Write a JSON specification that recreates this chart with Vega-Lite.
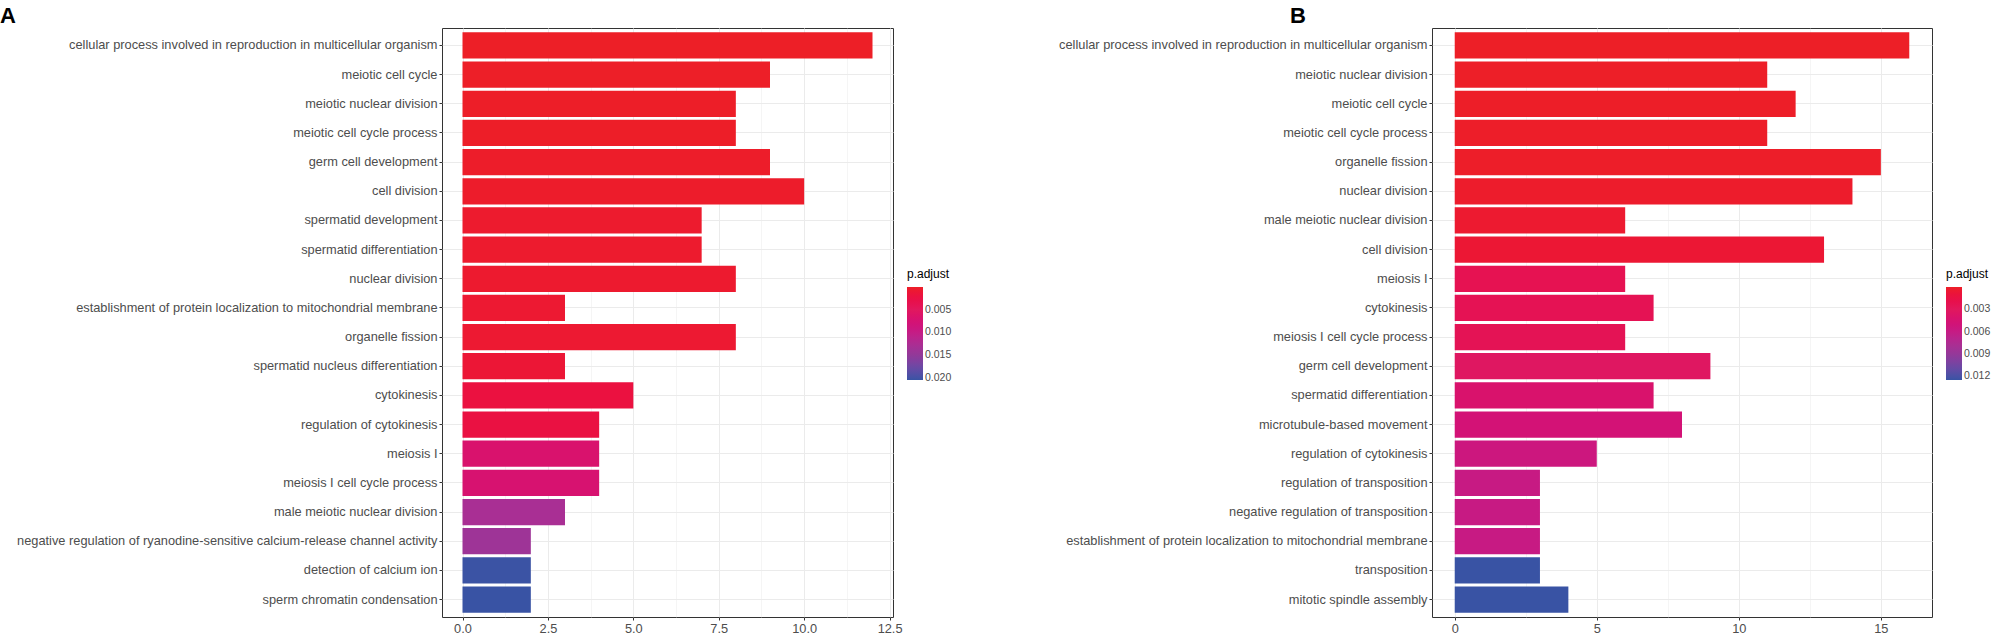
{
  "$schema": "https://vega.github.io/schema/vega-lite/v6.json",
  "autosize": "none",
  "padding": {"left": 442, "top": 28, "right": 1566, "bottom": 611},
  "background": "white",
  "datasets": {
    "A": [
      {"term": "cellular process involved in reproduction in multicellular organism", "count": 12, "p": 0.00002},
      {"term": "meiotic cell cycle", "count": 9, "p": 0.00005},
      {"term": "meiotic nuclear division", "count": 8, "p": 0.0001},
      {"term": "meiotic cell cycle process", "count": 8, "p": 0.0001},
      {"term": "germ cell development", "count": 9, "p": 0.0002},
      {"term": "cell division", "count": 10, "p": 0.0003},
      {"term": "spermatid development", "count": 7, "p": 0.0005},
      {"term": "spermatid differentiation", "count": 7, "p": 0.0005},
      {"term": "nuclear division", "count": 8, "p": 0.0006},
      {"term": "establishment of protein localization to mitochondrial membrane", "count": 3, "p": 0.0008},
      {"term": "organelle fission", "count": 8, "p": 0.0008},
      {"term": "spermatid nucleus differentiation", "count": 3, "p": 0.0012},
      {"term": "cytokinesis", "count": 5, "p": 0.002},
      {"term": "regulation of cytokinesis", "count": 4, "p": 0.0022},
      {"term": "meiosis I", "count": 4, "p": 0.0068},
      {"term": "meiosis I cell cycle process", "count": 4, "p": 0.0072},
      {"term": "male meiotic nuclear division", "count": 3, "p": 0.0129},
      {"term": "negative regulation of ryanodine-sensitive calcium-release channel activity", "count": 2, "p": 0.0139},
      {"term": "detection of calcium ion", "count": 2, "p": 0.0204},
      {"term": "sperm chromatin condensation", "count": 2, "p": 0.0205}
    ],
    "B": [
      {"term": "cellular process involved in reproduction in multicellular organism", "count": 16, "p": 0.00001},
      {"term": "meiotic nuclear division", "count": 11, "p": 0.00003},
      {"term": "meiotic cell cycle", "count": 12, "p": 0.00005},
      {"term": "meiotic cell cycle process", "count": 11, "p": 0.00008},
      {"term": "organelle fission", "count": 15, "p": 0.0001},
      {"term": "nuclear division", "count": 14, "p": 0.0002},
      {"term": "male meiotic nuclear division", "count": 6, "p": 0.0004},
      {"term": "cell division", "count": 13, "p": 0.0006},
      {"term": "meiosis I", "count": 6, "p": 0.0023},
      {"term": "cytokinesis", "count": 7, "p": 0.0024},
      {"term": "meiosis I cell cycle process", "count": 6, "p": 0.0025},
      {"term": "germ cell development", "count": 9, "p": 0.0033},
      {"term": "spermatid differentiation", "count": 7, "p": 0.0041},
      {"term": "microtubule-based movement", "count": 8, "p": 0.0048},
      {"term": "regulation of cytokinesis", "count": 5, "p": 0.0055},
      {"term": "regulation of transposition", "count": 3, "p": 0.0059},
      {"term": "negative regulation of transposition", "count": 3, "p": 0.0059},
      {"term": "establishment of protein localization to mitochondrial membrane", "count": 3, "p": 0.0059},
      {"term": "transposition", "count": 3, "p": 0.0125},
      {"term": "mitotic spindle assembly", "count": 4, "p": 0.0125}
    ]
  },
  "hconcat": [
    {
      "width": 451,
      "height": 589,
      "title": {"text": "A", "anchor": "start", "frame": "group", "dx": -442, "offset": 0},
      "data": {"name": "A"},
      "mark": {"type": "bar"},
      "encoding": {
        "y": {
          "field": "term", "type": "nominal", "sort": null,
          "scale": {"paddingInner": 0.1, "paddingOuter": 0.15},
          "axis": {"bandPosition": 0.5, "grid": true, "labelLimit": 0, "title": null}
        },
        "x": {
          "field": "count", "type": "quantitative",
          "scale": {"domain": [-0.6, 12.6], "nice": false, "zero": false},
          "axis": {
            "values": [0, 1.25, 2.5, 3.75, 5, 6.25, 7.5, 8.75, 10, 11.25, 12.5],
            "labelExpr": "datum.value % 2.5 == 0 ? format(datum.value, '.1f') : ''",
            "labelOverlap": false,
            "grid": true,
            "gridWidth": {"condition": {"test": "datum.value % 2.5 != 0", "value": 0.5}, "value": 1},
            "tickOpacity": {"condition": {"test": "datum.value % 2.5 != 0", "value": 0}, "value": 1},
            "title": null
          }
        },
        "color": {
          "field": "p", "type": "quantitative",
          "scale": {
            "domain": [0.0205, 0.015375, 0.01025, 0.005125, 0],
            "range": ["#3953A4", "#8E3A9A", "#C31D87", "#E0195F", "#ED1F27"]
          },
          "legend": {
            "title": "p.adjust", "orient": "none", "legendX": 465, "legendY": 241,
            "values": [0.005, 0.01, 0.015, 0.02], "format": ".3f"
          }
        }
      }
    },
    {
      "width": 500,
      "height": 589,
      "title": {"text": "B", "anchor": "start", "frame": "group", "dx": -142, "offset": 0},
      "data": {"name": "B"},
      "mark": {"type": "bar"},
      "encoding": {
        "y": {
          "field": "term", "type": "nominal", "sort": null,
          "scale": {"paddingInner": 0.1, "paddingOuter": 0.15},
          "axis": {"bandPosition": 0.5, "grid": true, "labelLimit": 0, "title": null}
        },
        "x": {
          "field": "count", "type": "quantitative",
          "scale": {"domain": [-0.8, 16.8], "nice": false, "zero": false},
          "axis": {
            "values": [0, 2.5, 5, 7.5, 10, 12.5, 15],
            "labelExpr": "datum.value % 5 == 0 ? format(datum.value, 'd') : ''",
            "labelOverlap": false,
            "grid": true,
            "gridWidth": {"condition": {"test": "datum.value % 5 != 0", "value": 0.5}, "value": 1},
            "tickOpacity": {"condition": {"test": "datum.value % 5 != 0", "value": 0}, "value": 1},
            "title": null
          }
        },
        "color": {
          "field": "p", "type": "quantitative",
          "scale": {
            "domain": [0.0125, 0.009375, 0.00625, 0.003125, 0],
            "range": ["#3953A4", "#8E3A9A", "#C31D87", "#E0195F", "#ED1F27"]
          },
          "legend": {
            "title": "p.adjust", "orient": "none", "legendX": 514, "legendY": 241,
            "values": [0.003, 0.006, 0.009, 0.012], "format": ".3f"
          }
        }
      }
    }
  ],
  "spacing": 539,
  "bounds": "flush",
  "resolve": {"scale": {"color": "independent"}},
  "config": {
    "font": "Liberation Sans",
    "view": {"stroke": "#333333", "strokeWidth": 1},
    "axis": {
      "labelFont": "Liberation Sans", "labelFontSize": 12.8, "labelColor": "#4D4D4D",
      "tickColor": "#333333", "tickSize": 3, "labelPadding": 2,
      "domain": false, "gridColor": "#EBEBEB"
    },
    "legend": {
      "direction": "vertical", "gradientLength": 93, "gradientThickness": 16,
      "gradientStrokeWidth": 0, "labelFont": "Liberation Sans", "labelFontSize": 10.5,
      "labelColor": "#4D4D4D", "labelOffset": 6, "titleFont": "Liberation Sans",
      "titleFontSize": 12, "titleFontWeight": "normal", "titleColor": "#000000", "titlePadding": 6
    },
    "title": {"font": "Liberation Sans", "fontSize": 22, "fontWeight": "bold", "color": "#000000"}
  }
}
